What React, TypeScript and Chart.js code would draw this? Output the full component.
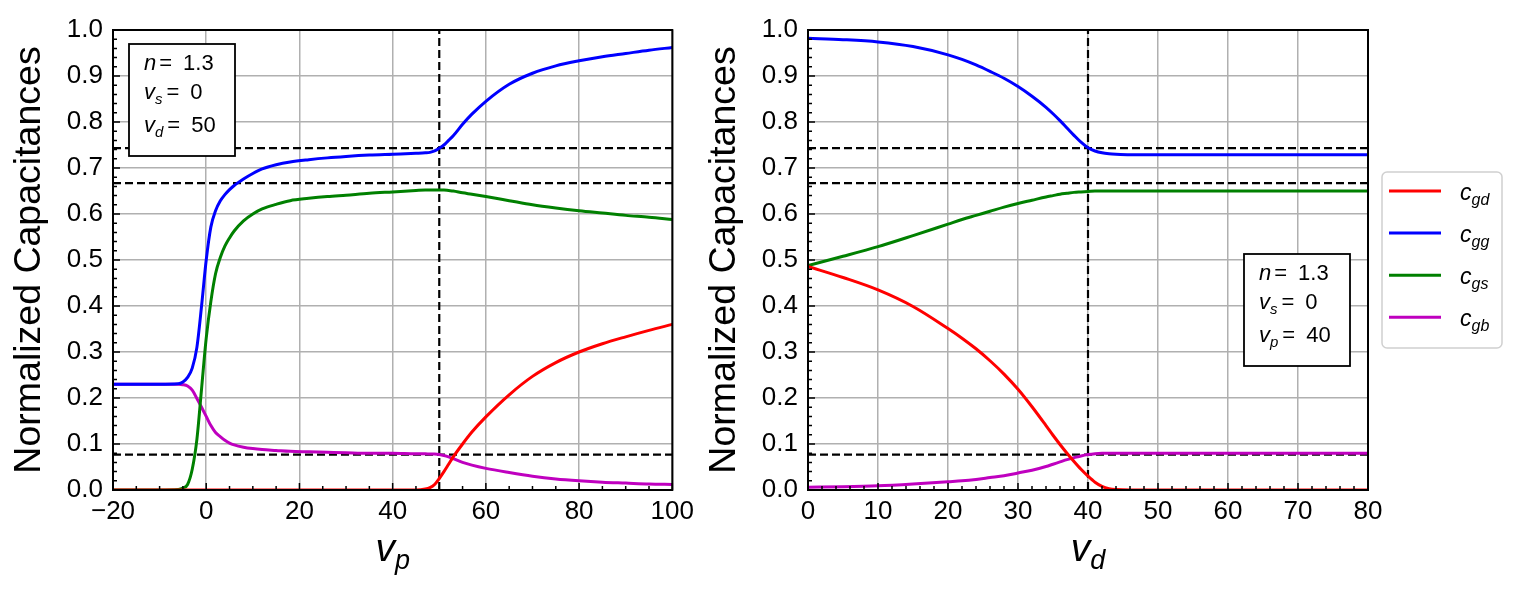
import { useEffect, useRef } from "react";
import { Chart, registerables } from "chart.js";

Chart.register(...registerables);

const FONT = '"Liberation Sans", Arial, Helvetica, sans-serif';

// left panel: sweep over v_p (n = 1.3, vs = 0, vd = 50)
const vpLeft = [-20, -10, -6, -5, -4, -3, -2, -1, 0, 1, 2, 3, 4, 5, 6, 8, 10, 12, 15, 18, 22, 26, 30, 35, 40, 45, 47, 48, 49, 50, 51, 52, 53, 55, 57, 60, 65, 70, 75, 80, 85, 90, 95, 100];
const cgdLeft = [0, 0, 0, 0, 0, 0, 0, 0, 0, 0, 0, 0, 0, 0, 0, 0, 0, 0, 0, 0, 0, 0, 0, 0, 0, 0, 0.002, 0.005, 0.012, 0.025, 0.04, 0.056, 0.072, 0.1, 0.126, 0.159, 0.207, 0.247, 0.277, 0.3, 0.318, 0.333, 0.347, 0.36];
const cggLeft = [0.23, 0.23, 0.231, 0.235, 0.245, 0.265, 0.31, 0.4, 0.5, 0.572, 0.607, 0.628, 0.642, 0.653, 0.662, 0.676, 0.688, 0.698, 0.707, 0.713, 0.718, 0.722, 0.725, 0.728, 0.73, 0.732, 0.733, 0.734, 0.737, 0.743, 0.75, 0.76, 0.77, 0.795, 0.817, 0.845, 0.882, 0.906, 0.922, 0.933, 0.942, 0.949, 0.956, 0.962];
const cgsLeft = [0, 0, 0.001, 0.004, 0.012, 0.045, 0.11, 0.22, 0.33, 0.41, 0.47, 0.505, 0.53, 0.548, 0.563, 0.585, 0.6, 0.611, 0.621, 0.629, 0.634, 0.638, 0.641, 0.645, 0.648, 0.651, 0.652, 0.652, 0.652, 0.652, 0.652, 0.651, 0.65, 0.646, 0.643, 0.638, 0.629, 0.62, 0.613, 0.607, 0.602, 0.597, 0.593, 0.588];
const cgbLeft = [0.23, 0.23, 0.23, 0.229, 0.226, 0.217, 0.199, 0.18, 0.16, 0.14, 0.125, 0.116, 0.108, 0.102, 0.098, 0.093, 0.09, 0.088, 0.086, 0.084, 0.083, 0.082, 0.081, 0.08, 0.08, 0.079, 0.079, 0.078, 0.078, 0.077, 0.075, 0.072, 0.068, 0.06, 0.054, 0.047, 0.038, 0.03, 0.024, 0.02, 0.017, 0.015, 0.013, 0.012];

// right panel: sweep over v_d (n = 1.3, vs = 0, vp = 40)
const vdRight = [0, 5, 10, 15, 20, 22, 24, 26, 28, 30, 32, 34, 35, 36, 37, 38, 39, 40, 41, 42, 43, 44, 46, 50, 60, 70, 80];
const cgdRight = [0.486, 0.462, 0.435, 0.399, 0.351, 0.33, 0.307, 0.281, 0.252, 0.219, 0.181, 0.14, 0.119, 0.099, 0.08, 0.062, 0.045, 0.03, 0.017, 0.008, 0.003, 0.001, 0, 0, 0, 0, 0];
const cggRight = [0.982, 0.979, 0.974, 0.964, 0.946, 0.936, 0.924, 0.91, 0.895, 0.877, 0.856, 0.832, 0.818, 0.803, 0.787, 0.771, 0.756, 0.744, 0.737, 0.733, 0.731, 0.73, 0.729, 0.729, 0.729, 0.729, 0.729];
const cgsRight = [0.488, 0.508, 0.529, 0.553, 0.578, 0.588, 0.597, 0.606, 0.615, 0.623, 0.63, 0.637, 0.64, 0.643, 0.645, 0.647, 0.648, 0.649, 0.65, 0.65, 0.65, 0.65, 0.65, 0.65, 0.65, 0.65, 0.65];
const cgbRight = [0.006, 0.007, 0.009, 0.013, 0.018, 0.02, 0.023, 0.027, 0.031, 0.037, 0.043, 0.051, 0.056, 0.061, 0.066, 0.07, 0.074, 0.077, 0.079, 0.08, 0.08, 0.08, 0.08, 0.08, 0.08, 0.08, 0.08];

// dashed reference levels
const hGuides = [0.743, 0.667, 0.077];

const seriesNames = ["gd", "gg", "gs", "gb"];
const seriesColors = ["#ff0000", "#0000ff", "#008000", "#bf00bf"];

type Seg = { t: string; it?: boolean; sub?: boolean; pad?: number };

function drawSegs(
  ctx: CanvasRenderingContext2D,
  segs: Seg[],
  x: number,
  y: number,
  size: number,
  subSize: number,
  subDy: number,
  center = false
) {
  const fontOf = (s: Seg) => `${s.it ? "italic " : ""}${s.sub ? subSize : size}px ${FONT}`;
  const widths = segs.map((s) => {
    ctx.font = fontOf(s);
    return ctx.measureText(s.t).width + (s.pad || 0);
  });
  const total = widths.reduce((a, b) => a + b, 0);
  let cx = center ? x - total / 2 : x;
  ctx.textAlign = "left";
  ctx.textBaseline = "alphabetic";
  segs.forEach((s, i) => {
    ctx.font = fontOf(s);
    ctx.fillText(s.t, cx + (s.pad || 0), s.sub ? y + subDy : y);
    cx += widths[i];
  });
}

interface PanelSpec {
  xs: number[];
  ys: number[][];
  xMin: number;
  xMax: number;
  xStep: number;
  xMinor: number;
  vGuide: number;
  xSub: string;
  box: { dx: number; dy: number; third: string; thirdVal: string };
  legend: boolean;
}

const leftSpec: PanelSpec = {
  xs: vpLeft,
  ys: [cgdLeft, cggLeft, cgsLeft, cgbLeft],
  xMin: -20,
  xMax: 100,
  xStep: 20,
  xMinor: 5,
  vGuide: 50,
  xSub: "p",
  box: { dx: 16, dy: 14, third: "d", thirdVal: "50" },
  legend: false,
};

const rightSpec: PanelSpec = {
  xs: vdRight,
  ys: [cgdRight, cggRight, cgsRight, cgbRight],
  xMin: 0,
  xMax: 80,
  xStep: 10,
  xMinor: 2,
  vGuide: 40,
  xSub: "d",
  box: { dx: 436, dy: 224, third: "p", thirdVal: "40" },
  legend: true,
};

const decorPlugin = (p: PanelSpec) => ({
  id: "decor",
  afterDraw(chart: any) {
    const ctx: CanvasRenderingContext2D = chart.ctx;
    const a = chart.chartArea;
    const xs = chart.scales.x;
    const ys = chart.scales.y;
    ctx.save();

    // inward ticks, left and bottom
    ctx.strokeStyle = "#000";
    ctx.lineWidth = 1.5;
    ctx.beginPath();
    const nx = Math.round((p.xMax - p.xMin) / p.xMinor);
    const every = Math.round(p.xStep / p.xMinor);
    for (let i = 0; i <= nx; i++) {
      const px = xs.getPixelForValue(p.xMin + i * p.xMinor);
      const len = i % every === 0 ? 7 : 4;
      ctx.moveTo(px, a.bottom);
      ctx.lineTo(px, a.bottom - len);
    }
    for (let i = 0; i <= 50; i++) {
      const py = ys.getPixelForValue(i * 0.02);
      const len = i % 5 === 0 ? 7 : 4;
      ctx.moveTo(a.left, py);
      ctx.lineTo(a.left + len, py);
    }
    ctx.stroke();

    // frame
    ctx.lineWidth = 2;
    ctx.strokeRect(a.left, a.top, a.right - a.left, a.bottom - a.top);

    // x axis title
    ctx.fillStyle = "#000";
    drawSegs(ctx, [{ t: "v", it: true }, { t: p.xSub, it: true, sub: true }], (a.left + a.right) / 2, 561, 39, 27, 8, true);

    // parameter box
    const bx = a.left + p.box.dx;
    const by = a.top + p.box.dy;
    ctx.fillStyle = "#fff";
    ctx.fillRect(bx, by, 106, 112);
    ctx.strokeStyle = "#000";
    ctx.lineWidth = 1.8;
    ctx.strokeRect(bx, by, 106, 112);
    ctx.fillStyle = "#000";
    const tx = bx + 15;
    drawSegs(ctx, [{ t: "n", it: true }, { t: "=", pad: 3 }, { t: "1.3", pad: 11 }], tx, by + 26, 22, 15, 5);
    drawSegs(ctx, [{ t: "v", it: true }, { t: "s", it: true, sub: true }, { t: "=", pad: 4 }, { t: "0", pad: 11 }], tx, by + 55, 22, 15, 5);
    drawSegs(ctx, [{ t: "v", it: true }, { t: p.box.third, it: true, sub: true }, { t: "=", pad: 4 }, { t: p.box.thirdVal, pad: 11 }], tx, by + 88, 22, 15, 5);

    // legend
    if (p.legend) {
      const lx = a.right + 14;
      const ly = a.top + 142;
      ctx.beginPath();
      ctx.roundRect(lx, ly, 120, 176, 5);
      ctx.fillStyle = "#fff";
      ctx.fill();
      ctx.strokeStyle = "#d0d0d0";
      ctx.lineWidth = 1.5;
      ctx.stroke();
      chart.data.datasets
        .filter((d: any) => d.label !== "guide")
        .forEach((d: any, i: number) => {
          const y = ly + 19 + i * 42.1;
          ctx.strokeStyle = d.borderColor;
          ctx.lineWidth = 3;
          ctx.beginPath();
          ctx.moveTo(lx + 7, y);
          ctx.lineTo(lx + 59, y);
          ctx.stroke();
          ctx.fillStyle = "#000";
          drawSegs(ctx, [{ t: "c", it: true }, { t: d.label, it: true, sub: true }], lx + 78, y + 9, 23, 16, 5);
        });
    }
    ctx.restore();
  },
});

function makeConfig(p: PanelSpec, width: number): any {
  const curves = p.ys.map((vals, k) => ({
    label: seriesNames[k],
    data: p.xs.map((x, i) => ({ x, y: vals[i] })),
    borderColor: seriesColors[k],
    backgroundColor: seriesColors[k],
    borderWidth: 3,
    pointRadius: 0,
    cubicInterpolationMode: "monotone",
    fill: false,
  }));
  const guide = (pts: { x: number; y: number }[]) => ({
    label: "guide",
    data: pts,
    borderColor: "#000",
    borderWidth: 2.2,
    borderDash: [8, 4],
    pointRadius: 0,
    fill: false,
  });
  const guides = [
    ...hGuides.map((v) => guide([{ x: p.xMin, y: v }, { x: p.xMax, y: v }])),
    guide([{ x: p.vGuide, y: 0 }, { x: p.vGuide, y: 1 }]),
  ];

  return {
    type: "line",
    data: { datasets: [...curves, ...guides] },
    options: {
      animation: false,
      responsive: false,
      maintainAspectRatio: false,
      layout: { padding: { left: 0, top: 30, right: width - 113 - 560, bottom: 0 } },
      plugins: { legend: { display: false }, tooltip: { enabled: false } },
      scales: {
        x: {
          type: "linear",
          min: p.xMin,
          max: p.xMax,
          afterFit: (s: any) => {
            s.height = 108;
          },
          grid: { color: "#b0b0b0", lineWidth: 1.5, drawTicks: false },
          border: { display: false },
          ticks: {
            stepSize: p.xStep,
            autoSkip: false,
            maxRotation: 0,
            padding: 6,
            color: "#000",
            font: { family: FONT, size: 26 },
            callback: (v: number) => (v < 0 ? "\u2212" + Math.abs(v) : String(v)),
          },
        },
        y: {
          min: 0,
          max: 1,
          afterFit: (s: any) => {
            s.width = 113;
          },
          grid: { color: "#b0b0b0", lineWidth: 1.5, drawTicks: false },
          border: { display: false },
          ticks: {
            stepSize: 0.1,
            autoSkip: false,
            padding: 10,
            color: "#000",
            font: { family: FONT, size: 26 },
            callback: (v: number) => Number(v).toFixed(1),
          },
          title: {
            display: true,
            text: "Normalized Capacitances",
            color: "#000",
            font: { family: FONT, size: 37.5 },
            padding: { top: 7, bottom: 0 },
          },
        },
      },
    },
    plugins: [decorPlugin(p)],
  };
}

function Panel({ spec, left, width }: { spec: PanelSpec; left: number; width: number }) {
  const canvasRef = useRef<HTMLCanvasElement>(null);

  useEffect(() => {
    if (!canvasRef.current) return;
    const chart = new Chart(canvasRef.current, makeConfig(spec, width));
    return () => chart.destroy();
  }, [spec, width]);

  return (
    <canvas
      ref={canvasRef}
      width={width}
      height={598}
      style={{ position: "absolute", left, top: 0, width, height: 598 }}
    />
  );
}

export default function App() {
  return (
    <div
      style={{
        position: "absolute",
        left: 0,
        top: 0,
        width: 1519,
        height: 598,
        background: "#fff",
        overflow: "hidden",
      }}
    >
      <Panel spec={leftSpec} left={0} width={700} />
      <Panel spec={rightSpec} left={695} width={824} />
    </div>
  );
}
